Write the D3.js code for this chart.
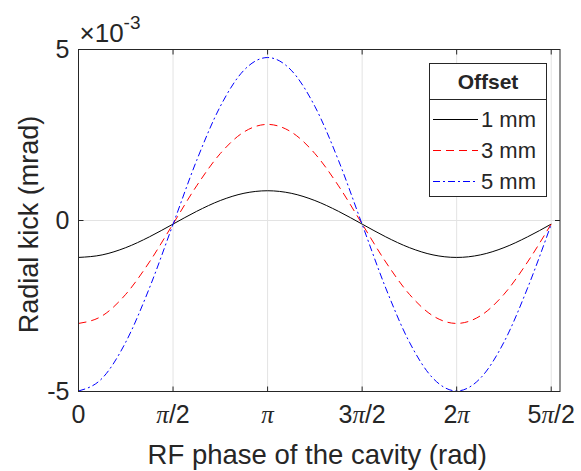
<!DOCTYPE html>
<html><head><meta charset="utf-8">
<script src="https://cdn.jsdelivr.net/npm/d3@7"></script>
<style>body{margin:0;background:#fff}svg{display:block}text{font-family:"Liberation Sans",Arial,sans-serif;fill:#262626}</style>
</head><body>
<script>
// RF phase samples (rad), multiples of pi/8
const phase = [0,0.393,0.785,1.178,1.571,1.963,2.356,2.749,3.142,3.534,3.927,4.320,4.712,5.105,5.498,5.890,6.283,6.676,7.069,7.461,7.854];
// Radial kick in units of 1e-3 mrad
const kick1mm = [-1.080,-1.006,-0.794,-0.478,-0.105,0.268,0.584,0.796,0.870,0.796,0.584,0.268,-0.105,-0.478,-0.794,-1.006,-1.080,-1.006,-0.794,-0.478,-0.105];
const kick3mm = [-3.010,-2.789,-2.158,-1.214,-0.100,1.014,1.958,2.589,2.810,2.589,1.958,1.014,-0.100,-1.214,-2.158,-2.789,-3.010,-2.789,-2.158,-1.214,-0.100];
const kick5mm = [-4.985,-4.614,-3.557,-1.976,-0.110,1.756,3.337,4.394,4.765,4.394,3.337,1.756,-0.110,-1.976,-3.557,-4.614,-4.985,-4.614,-3.557,-1.976,-0.110];
const seriesNames = ["1 mm","3 mm","5 mm"];
const xTickValues = [0, Math.PI/2, Math.PI, 3*Math.PI/2, 2*Math.PI, 5*Math.PI/2];
const xTickLabels = [["0"],["π","/2"],["π"],["3","π","/2"],["2","π"],["5","π","/2"]];
const yTickValues = [-5, 0, 5];
const yTickLabels = ["-5","0","5"];

const W=581,H=471;
const m={l:78.5,r:21,t:49.5,b:79.5};
const svg=d3.select("body").append("svg").attr("width",W).attr("height",H);
const x=d3.scaleLinear().domain([0,8]).range([m.l,W-m.r]);
const y=d3.scaleLinear().domain([-5,5]).range([H-m.b,m.t]);

const g=svg.append("g");
// grid
g.selectAll(".gx").data(xTickValues).join("line")
 .attr("x1",d=>x(d)).attr("x2",d=>x(d)).attr("y1",y(-5)).attr("y2",y(5))
 .attr("stroke","#e3e3e3").attr("stroke-width",1);
g.selectAll(".gy").data(yTickValues).join("line")
 .attr("y1",d=>y(d)).attr("y2",d=>y(d)).attr("x1",x(0)).attr("x2",x(8))
 .attr("stroke","#e3e3e3").attr("stroke-width",1);

// series
const series=[
 {name:seriesNames[0],vals:kick1mm,color:"#000000",dash:null},
 {name:seriesNames[1],vals:kick3mm,color:"#ff0000",dash:"8,5"},
 {name:seriesNames[2],vals:kick5mm,color:"#0000ff",dash:"7,3,2,3"}
];
const line=d3.line().x((d,i)=>x(phase[i])).y(d=>y(d)).curve(d3.curveMonotoneX);
series.forEach(s=>{
 g.append("path").attr("d",line(s.vals)).attr("fill","none")
  .attr("stroke",s.color).attr("stroke-width",1).attr("stroke-dasharray",s.dash);
});

// box and ticks
const ax="#262626";
g.append("rect").attr("x",x(0)).attr("y",y(5)).attr("width",x(8)-x(0)).attr("height",y(-5)-y(5))
 .attr("fill","none").attr("stroke",ax).attr("stroke-width",1);
const tl=5;
xTickValues.forEach(v=>{
 g.append("line").attr("x1",x(v)).attr("x2",x(v)).attr("y1",y(-5)).attr("y2",y(-5)-tl).attr("stroke",ax);
 g.append("line").attr("x1",x(v)).attr("x2",x(v)).attr("y1",y(5)).attr("y2",y(5)+tl).attr("stroke",ax);
});
yTickValues.forEach(v=>{
 g.append("line").attr("y1",y(v)).attr("y2",y(v)).attr("x1",x(0)).attr("x2",x(0)+tl).attr("stroke",ax);
 g.append("line").attr("y1",y(v)).attr("y2",y(v)).attr("x1",x(8)).attr("x2",x(8)-tl).attr("stroke",ax);
});

// x tick labels
xTickValues.forEach((v,i)=>{
 const t=g.append("text").attr("x",x(v)).attr("y",y(-5)+31).attr("text-anchor","middle").attr("font-size",25);
 xTickLabels[i].forEach(p=>{
  const ts=t.append("tspan").text(p);
  if(p==="π") ts.attr("font-family","'Liberation Serif','Times New Roman',serif").attr("font-style","italic");
 });
});
// y tick labels
yTickValues.forEach((v,i)=>{
 g.append("text").attr("x",x(0)-9).attr("y",y(v)).attr("dy","0.35em").attr("text-anchor","end")
  .attr("font-size",25).text(yTickLabels[i]);
});
// exponent
const ex=g.append("text").attr("x",x(0)+1).attr("y",y(5)-8).attr("font-size",26);
ex.append("tspan").text("×10");
ex.append("tspan").attr("dy",-13).attr("font-size",19).text("-3");

// axis labels
g.append("text").attr("x",(x(0)+x(8))/2 - 2).attr("y",H-7).attr("text-anchor","middle").attr("font-size",27.5)
 .text("RF phase of the cavity (rad)");
g.append("text").attr("transform",`translate(38,${(y(5)+y(-5))/2 + 4}) rotate(-90)`).attr("text-anchor","middle")
 .attr("font-size",27).text("Radial kick (mrad)");

// legend
const lx=429.5,ly=63.5,lw=117,lh=133;
const lg=g.append("g");
lg.append("rect").attr("x",lx).attr("y",ly).attr("width",lw).attr("height",lh).attr("fill","#fff").attr("stroke",ax);
lg.append("line").attr("x1",lx).attr("x2",lx+lw).attr("y1",99.5).attr("y2",99.5).attr("stroke",ax);
lg.append("text").attr("x",lx+lw/2).attr("y",82).attr("dy","0.35em").attr("text-anchor","middle")
 .attr("font-size",21).attr("font-weight","bold").attr("fill","#000").text("Offset");
const ey=[119.5,150.5,181.5];
series.forEach((s,i)=>{
 lg.append("line").attr("x1",433).attr("x2",478).attr("y1",ey[i]).attr("y2",ey[i])
  .attr("stroke",s.color).attr("stroke-width",1).attr("stroke-dasharray",s.dash);
 lg.append("text").attr("x",481).attr("y",ey[i]).attr("dy","0.35em").attr("font-size",22).text(s.name);
});
</script>
</body></html>
